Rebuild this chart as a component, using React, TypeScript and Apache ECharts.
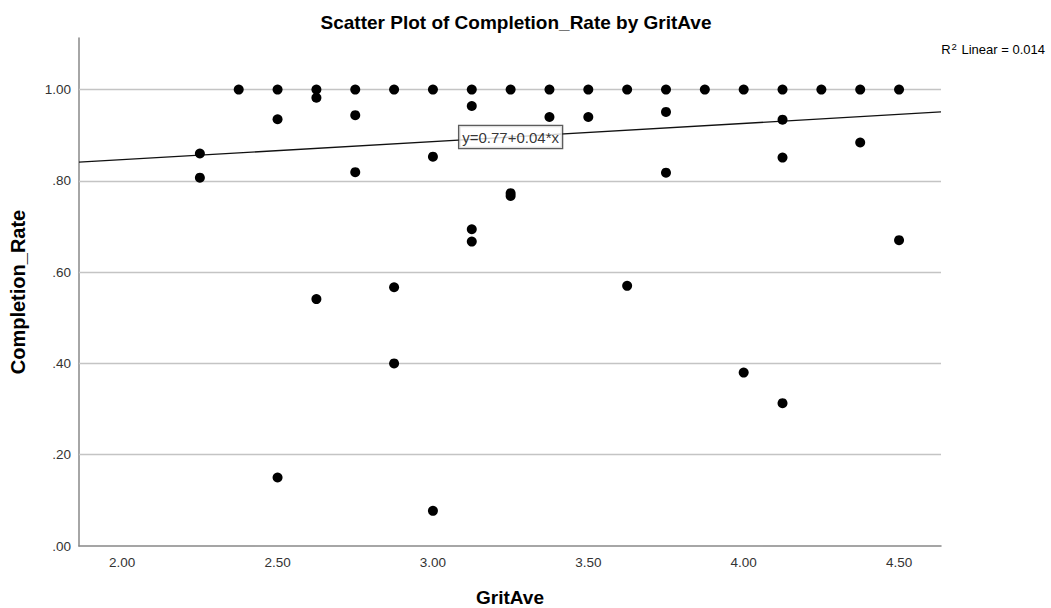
import React, { useEffect, useRef } from "react";
import * as echarts from "echarts";

const gritAve = [
  2.25, 2.25,
  2.375,
  2.5, 2.5, 2.5,
  2.625, 2.625, 2.625,
  2.75, 2.75, 2.75,
  2.875, 2.875, 2.875,
  3.0, 3.0, 3.0,
  3.125, 3.125, 3.125, 3.125,
  3.25, 3.25, 3.25,
  3.375, 3.375,
  3.5, 3.5,
  3.625, 3.625,
  3.75, 3.75, 3.75,
  3.875,
  4.0, 4.0,
  4.125, 4.125, 4.125, 4.125,
  4.25,
  4.375, 4.375,
  4.5, 4.5,
];
const completionRate = [
  0.86, 0.807,
  1.0,
  1.0, 0.935, 0.15,
  1.0, 0.982, 0.541,
  1.0, 0.944, 0.819,
  1.0, 0.567, 0.4,
  1.0, 0.853, 0.077,
  1.0, 0.964, 0.694, 0.667,
  1.0, 0.773, 0.767,
  1.0, 0.94,
  1.0, 0.94,
  1.0, 0.57,
  1.0, 0.951, 0.818,
  1.0,
  1.0, 0.38,
  1.0, 0.934, 0.851, 0.313,
  1.0,
  1.0, 0.884,
  1.0, 0.67,
];
const xTicks = [2.0, 2.5, 3.0, 3.5, 4.0, 4.5];
const yTicks = [0, 0.2, 0.4, 0.6, 0.8, 1.0];
const xRange = [1.861, 4.635];
const yRange = [0, 1.113];
const fitIntercept = 0.767;
const fitSlope = 0.0397;
const fitLabelX = 3.25;
const fitLabel = "y=0.77+0.04*x";
const r2Value = "0.014";

const FONT = "'Liberation Sans', Arial, sans-serif";

export default function App() {
  const ref = useRef<HTMLDivElement>(null);
  useEffect(() => {
    if (!ref.current) return;
    const chart = echarts.init(ref.current, null, { renderer: "svg" });
    const points = gritAve.map((x, i) => [x, completionRate[i]]);
    const fit = (x: number) => fitIntercept + fitSlope * x;
    chart.setOption({
      animation: false,
      backgroundColor: "#ffffff",
      textStyle: { fontFamily: FONT },
      title: {
        text: "Scatter Plot of Completion_Rate by GritAve",
        left: 511,
        textAlign: "center",
        top: 8,
        textStyle: { fontFamily: FONT, fontSize: 19, fontWeight: "bold", color: "#000" },
      },
      grid: {
        left: 79,
        right: 110,
        top: 38,
        bottom: 62,
        containLabel: false,
        outerBoundsMode: "none",
      },
      xAxis: {
        type: "value",
        min: xRange[0],
        max: xRange[1],
        name: "GritAve",
        nameLocation: "middle",
        nameGap: 42,
        nameTextStyle: { fontFamily: FONT, fontSize: 19, fontWeight: "bold", color: "#000" },
        axisLine: { show: true, onZero: false, lineStyle: { color: "#888", width: 1.5 } },
        axisTick: { show: false, customValues: xTicks },
        splitLine: { show: false },
        axisLabel: {
          customValues: xTicks,
          formatter: (v: number) => v.toFixed(2),
          fontSize: 13.5,
          color: "#333",
          margin: 9,
          fontFamily: FONT,
        },
      },
      yAxis: {
        type: "value",
        min: yRange[0],
        max: yRange[1],
        name: "Completion_Rate",
        nameLocation: "middle",
        nameGap: 51,
        nameRotate: 90,
        nameTextStyle: { fontFamily: FONT, fontSize: 20, fontWeight: "bold", color: "#000" },
        axisLine: { show: true, lineStyle: { color: "#888", width: 1.5 } },
        axisTick: { show: false, customValues: yTicks },
        splitLine: { show: false },
        axisLabel: {
          customValues: yTicks,
          formatter: (v: number) => v.toFixed(2).replace(/^0/, ""),
          fontSize: 13.5,
          color: "#333",
          margin: 8,
          fontFamily: FONT,
        },
      },
      graphic: [
        {
          type: "text",
          right: 6,
          top: 41,
          style: {
            text: "{a|R}{s|2}{a| Linear = " + r2Value + "}",
            rich: {
              a: { fontSize: 13, fontFamily: FONT, fill: "#000" },
              s: { fontSize: 9.5, fontFamily: FONT, fill: "#000", verticalAlign: "top", padding: [0, 1, 6, 1] },
            },
          },
        },
      ],
      series: [
        {
          type: "line",
          z: 2,
          symbol: "none",
          silent: true,
          data: [
            [xRange[0], fit(xRange[0])],
            [xRange[1], fit(xRange[1])],
          ],
          lineStyle: { color: "#111", width: 1.3 },
          markLine: {
            silent: true,
            symbol: "none",
            label: { show: false },
            lineStyle: { color: "#c4c4c4", type: "solid", width: 1.3 },
            data: yTicks.filter((v) => v > 0).map((v) => ({ yAxis: v })),
            z: 1,
          },
        },
        {
          type: "scatter",
          z: 4,
          symbol: "circle",
          symbolSize: 10,
          itemStyle: { color: "#000", opacity: 1 },
          data: points,
        },
        {
          type: "scatter",
          z: 5,
          symbolSize: 0,
          silent: true,
          data: [[fitLabelX, fit(fitLabelX)]],
          label: {
            show: true,
            position: "inside",
            formatter: fitLabel,
            fontFamily: FONT,
            fontSize: 15,
            color: "#000",
            backgroundColor: "#fff",
            borderColor: "#333",
            borderWidth: 1.3,
            padding: [4, 3, 3, 3],
          },
        },
      ],
    });
    return () => chart.dispose();
  }, []);
  return (
    <div
      ref={ref}
      style={{ position: "fixed", left: 0, top: 0, width: 1051, height: 608 }}
    />
  );
}
